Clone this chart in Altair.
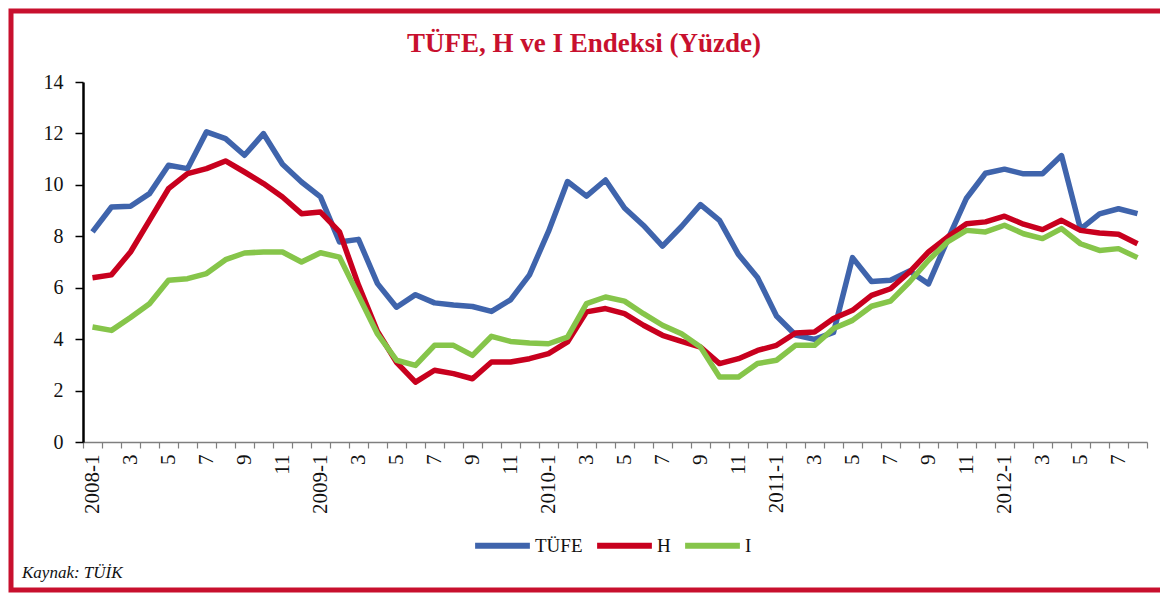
import altair as alt
import pandas as pd

# ---- data ----
years = [2008, 2009, 2010, 2011, 2012]
last_month_2012 = 8
months = [f"{y}-{m}" for y in years for m in range(1, 13) if not (y == 2012 and m > last_month_2012)]

series_names = ["TÜFE", "H", "I"]
series_colors = ["#3F64AC", "#C8001E", "#86C54A"]

tufe = [8.17, 9.14, 9.17, 9.66, 10.76, 10.63, 12.06, 11.80, 11.15, 11.99, 10.80, 10.11,
        9.53, 7.78, 7.88, 6.16, 5.24, 5.73, 5.41, 5.33, 5.27, 5.08, 5.53, 6.50,
        8.19, 10.13, 9.56, 10.19, 9.10, 8.42, 7.62, 8.38, 9.23, 8.62, 7.29, 6.40,
        4.90, 4.16, 3.99, 4.26, 7.17, 6.24, 6.29, 6.65, 6.15, 7.85, 9.48, 10.45,
        10.61, 10.43, 10.43, 11.14, 8.28, 8.87, 9.07, 8.88]
h_index = [6.39, 6.50, 7.39, 8.62, 9.85, 10.44, 10.63, 10.93, 10.50, 10.05, 9.53, 8.88,
           8.94, 8.17, 6.10, 4.30, 3.10, 2.33, 2.79, 2.66, 2.46, 3.11, 3.11, 3.24,
           3.44, 3.89, 5.06, 5.19, 4.99, 4.54, 4.15, 3.91, 3.69, 3.05, 3.24, 3.56,
           3.76, 4.24, 4.28, 4.80, 5.12, 5.70, 5.96, 6.61, 7.39, 7.97, 8.49, 8.56,
           8.78, 8.47, 8.26, 8.62, 8.23, 8.13, 8.08, 7.71]
i_index = [4.47, 4.34, 4.84, 5.38, 6.29, 6.35, 6.55, 7.09, 7.35, 7.39, 7.39, 7.00,
           7.36, 7.19, 5.70, 4.20, 3.18, 2.98, 3.76, 3.76, 3.37, 4.11, 3.91, 3.85,
           3.82, 4.08, 5.38, 5.64, 5.48, 4.99, 4.54, 4.21, 3.69, 2.53, 2.53, 3.05,
           3.18, 3.76, 3.76, 4.41, 4.73, 5.28, 5.48, 6.22, 7.07, 7.78, 8.23, 8.17,
           8.43, 8.10, 7.91, 8.30, 7.71, 7.45, 7.52, 7.17]

y_ticks = [0, 2, 4, 6, 8, 10, 12, 14]
title_text = "TÜFE, H ve I Endeksi (Yüzde)"
source_text = "Kaynak: TÜİK"

# ---- long table ----
rows = []
for name, vals in zip(series_names, [tufe, h_index, i_index]):
    for m, v in zip(months, vals):
        rows.append({"ay": m, "seri": name, "deger": v})
df = pd.DataFrame(rows)

W, H = 1064, 360
SERIF = "Liberation Serif"
RED = "#C8102E"

label_expr = ("split(datum.value,'-')[1] == '1' ? datum.value : "
              "(toNumber(split(datum.value,'-')[1]) % 2 == 1 ? split(datum.value,'-')[1] : '')")

lines = alt.Chart(df).mark_line(strokeWidth=5.5, strokeJoin="round").encode(
    x=alt.X("ay:N", sort=months,
            scale=alt.Scale(type="band", paddingInner=0, paddingOuter=0),
            axis=alt.Axis(title=None, labelExpr=label_expr, labelAngle=270,
                          labelAlign="right", labelBaseline="middle",
                          tickBand="extent", domainColor="#7f7f7f", domainWidth=1.5,
                          tickColor="#7f7f7f", tickWidth=1.2, tickSize=6,
                          labelPadding=6, labelFont=SERIF, labelFontSize=21,
                          labelColor="#111111", labelOverlap=False, grid=False)),
    y=alt.Y("deger:Q", scale=alt.Scale(domain=[0, 14], nice=False, zero=True),
            axis=alt.Axis(title=None, values=y_ticks, grid=False,
                          domainColor="#000000", domainWidth=2.5,
                          tickColor="#000000", tickWidth=1.5, tickSize=8,
                          labelPadding=12, labelFont=SERIF, labelFontSize=20,
                          labelColor="#111111")),
    color=alt.Color("seri:N", sort=series_names,
                    scale=alt.Scale(domain=series_names, range=series_colors),
                    legend=alt.Legend(title=None, orient="none", direction="horizontal",
                                      legendX=389, legendY=433,
                                      symbolType="stroke", symbolSize=3000,
                                      symbolStrokeWidth=6, labelFont=SERIF,
                                      labelFontSize=19, labelColor="#111111",
                                      labelOffset=2, columnPadding=2)),
    order=alt.Order("seri_ord:Q"),
).transform_calculate(
    seri_ord="indexof(['TÜFE','H','I'], datum.seri)"
)

title_layer = alt.Chart(pd.DataFrame({"t": [title_text]})).mark_text(
    font=SERIF, fontSize=27, fontWeight="bold", color=RED,
    align="center", baseline="alphabetic"
).encode(x=alt.value(501), y=alt.value(-30), text="t:N")

source_layer = alt.Chart(pd.DataFrame({"t": [source_text]})).mark_text(
    font=SERIF, fontSize=17, fontStyle="italic", color="#111111",
    align="left", baseline="alphabetic"
).encode(x=alt.value(-61), y=alt.value(496), text="t:N")

frame_layer = alt.Chart(pd.DataFrame({"f": [1]})).mark_rect(
    fillOpacity=0, stroke=RED, strokeWidth=5
).encode(x=alt.value(-72), x2=alt.value(W + 200), y=alt.value(-71), y2=alt.value(508))

chart = alt.layer(lines, title_layer, source_layer, frame_layer).properties(
    width=W, height=H,
    autosize=alt.AutoSizeParams(type="none"),
    padding={"left": 75, "top": 74, "right": 13, "bottom": 151},
    background="white",
).configure_view(stroke=None).configure_legend(labelFont=SERIF)

chart.save("out.html", embed_options={"renderer": "svg", "actions": False})
